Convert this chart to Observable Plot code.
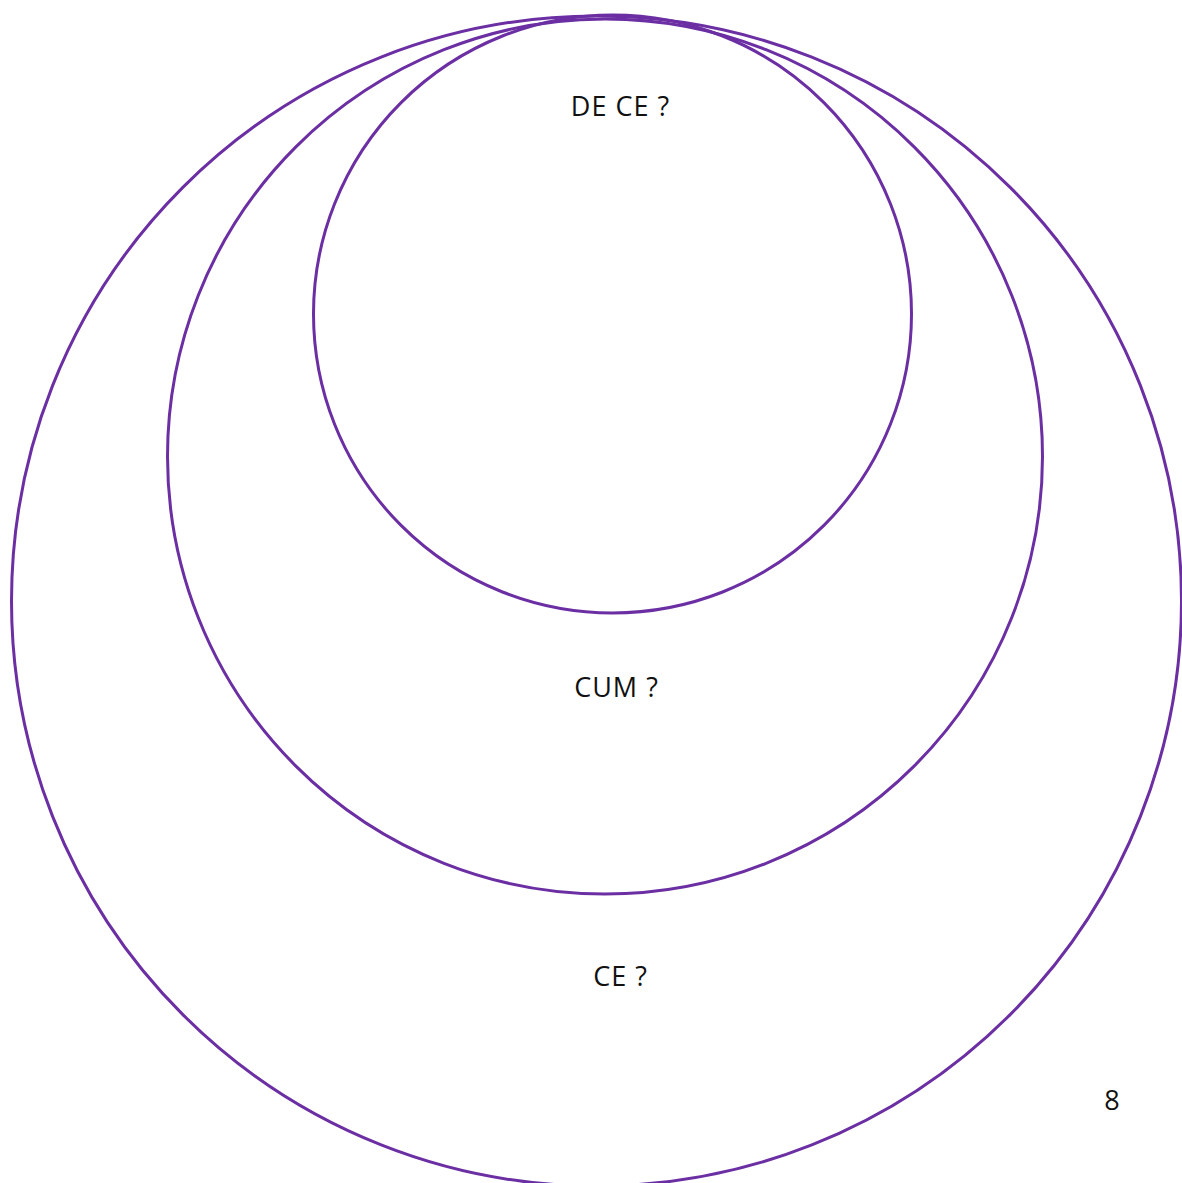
<!DOCTYPE html>
<html>
<head>
<meta charset="utf-8">
<script src="https://cdn.jsdelivr.net/npm/d3@7"></script>
<script src="https://cdn.jsdelivr.net/npm/@observablehq/plot@0.6"></script>
<style>
  html, body { margin: 0; padding: 0; background: #ffffff; }
  #chart svg { display: block; }
  #chart svg text { letter-spacing: 1px; }
</style>
</head>
<body>
<div id="chart"></div>
<script>
// Nested circles (data units: 0..1182 horizontally, 0..1183 vertically, top = 0)
const circleNames = ["CE ?", "CUM ?", "DE CE ?"];
const circleCx = [596, 604.5, 612];
const circleCy = [600.5, 456, 313.5];
const circleR = [585, 437.5, 299];

const labelText = ["DE CE ?", "CUM ?", "CE ?"];
const labelX = [620, 616, 620];
const labelY = [107, 688, 977];

const pageNumber = ["8"];
const pageX = [1112];
const pageY = [1101];

const circles = circleNames.map((n, i) => ({name: n, x: circleCx[i], y: circleCy[i], r: circleR[i]}));
const labels = labelText.map((t, i) => ({text: t, x: labelX[i], y: labelY[i]}));
const pages = pageNumber.map((t, i) => ({text: t, x: pageX[i], y: pageY[i]}));

const W = 1182, H = 1183;
const chart = Plot.plot({
  width: W,
  height: H,
  margin: 0,
  x: {domain: [0, W], axis: null},
  y: {domain: [0, H], reverse: true, axis: null},
  r: {type: "identity"},
  style: {background: "#ffffff", fontFamily: "'Open Sans', Lato, sans-serif"},
  marks: [
    Plot.dot(circles, {x: "x", y: "y", r: "r", fill: "none", stroke: "#6b2fa3", strokeWidth: 3}),
    Plot.text(labels, {x: "x", y: "y", text: "text", fontSize: 27, fill: "#111111", textAnchor: "middle"}),
    Plot.text(pages, {x: "x", y: "y", text: "text", fontSize: 27, fill: "#111111", textAnchor: "middle"})
  ]
});
document.getElementById("chart").appendChild(chart);
</script>
</body>
</html>
